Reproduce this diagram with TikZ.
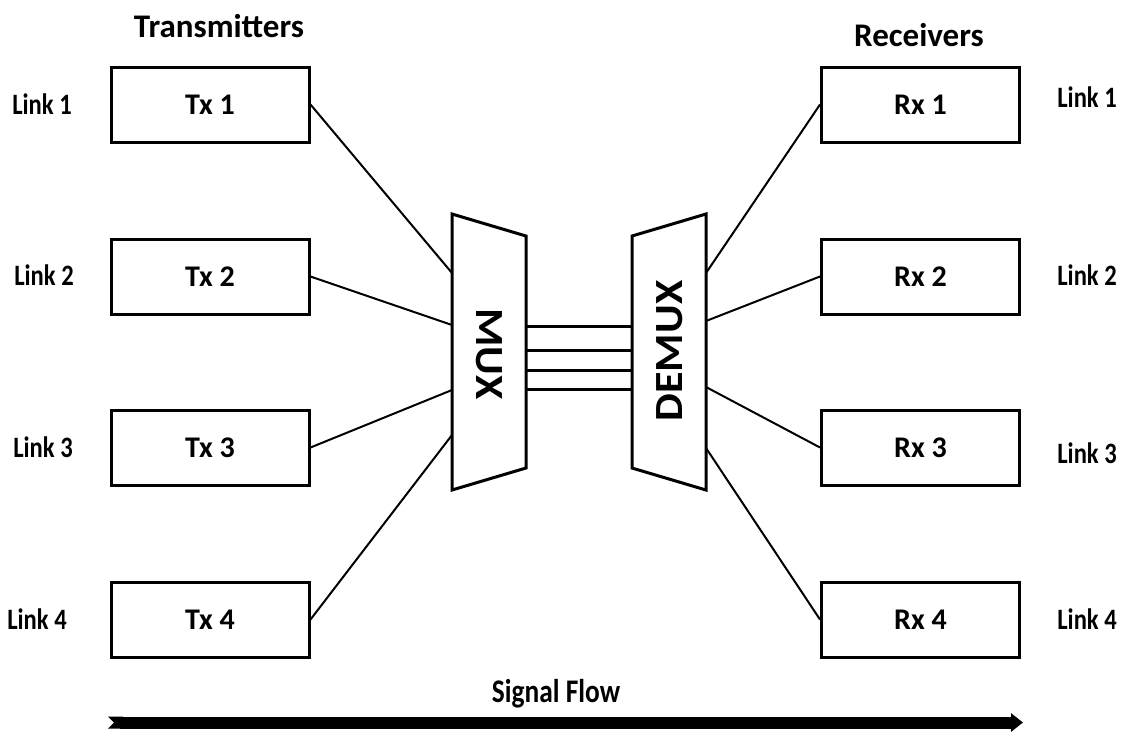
\documentclass[tikz,border=0pt]{standalone}
\usepackage{fontspec}
\setmainfont{Carlito}
\newfontfamily\muxfont{Carlito}[FakeStretch=1.1]
\newfontfamily\linkfont{Carlito}[FakeStretch=0.83]
\usetikzlibrary{arrows.meta, positioning}

\tikzset{
  unitbox/.style={draw, line width=1.5pt, minimum width=99pt, minimum height=37.5pt,
    inner sep=0pt, font=\bfseries\fontsize{15}{17}\selectfont},
  linklabel/.style={font=\linkfont\bfseries\fontsize{14.8}{17}\selectfont},
  header/.style={font=\bfseries\fontsize{16.5}{19}\selectfont},
  muxtext/.style={font=\muxfont\bfseries\fontsize{20}{22}\selectfont},
  flowtext/.style={font=\linkfont\bfseries\fontsize{16.5}{19}\selectfont},
  wire/.style={line width=1pt},
  bus/.style={line width=1.5pt},
  muxedge/.style={line width=1.5pt, line join=miter},
}

\begin{document}
\begin{tikzpicture}[x=0.5pt, y=-0.5pt]
\useasboundingbox (0,0) rectangle (1128,735);

% headers
\node[header] (txhead) at (219,26) {Transmitters};
\node[header] (rxhead) at (919,35) {Receivers};

% transmitter and receiver boxes
\foreach \i/\y in {1/104.5, 2/276.5, 3/447.5, 4/619.5} {
  \node[unitbox] (tx\i) at (210,\y) {Tx \i};
  \node[unitbox] (rx\i) at (920.5,\y) {Rx \i};
}

% link labels
\node[linklabel] (linkl1) at (42,104) {Link 1};
\node[linklabel] (linkl2) at (44,275) {Link 2};
\node[linklabel] (linkl3) at (43,447) {Link 3};
\node[linklabel] (linkl4) at (37,619) {Link 4};
\node[linklabel] (linkr1) at (1087,97) {Link 1};
\node[linklabel] (linkr2) at (1087,275) {Link 2};
\node[linklabel] (linkr3) at (1087,453) {Link 3};
\node[linklabel] (linkr4) at (1087,619) {Link 4};

% mux and demux
\draw[muxedge] (452,214) -- (526,236) -- (526,468) -- (452,490) -- cycle;
\draw[muxedge] (632,236) -- (706,214) -- (706,490) -- (632,468) -- cycle;
\node[muxtext, rotate=-90] (muxlabel) at (489,354) {MUX};
\node[muxtext, rotate=90] (demuxlabel) at (670,351) {DEMUX};

\foreach \i/\a/\b in {1/273/273, 2/325/321, 3/390/387, 4/435/448} {
  \coordinate (muxin\i) at (452,\a);
  \coordinate (demuxout\i) at (706,\b);
  \draw[wire] (tx\i.east) -- (muxin\i);
  \draw[wire] (demuxout\i) -- (rx\i.west);
}

% lines between mux and demux
\foreach \i/\y in {1/326, 2/350, 3/370, 4/389} {
  \coordinate (busa\i) at (526,\y);
  \coordinate (busb\i) at (632,\y);
  \draw[bus] (busa\i) -- (busb\i);
}

% signal flow
\node[flowtext] (flowlabel) at (556,694) {Signal Flow};
\coordinate (flowtail) at (108,722.5);
\coordinate (flowhead) at (1023,722.5);
\draw[line width=6pt, {Triangle Cap[reversed]}-{Triangle[length=6pt, width=9pt]}] (flowtail) -- (flowhead);
\end{tikzpicture}
\end{document}
